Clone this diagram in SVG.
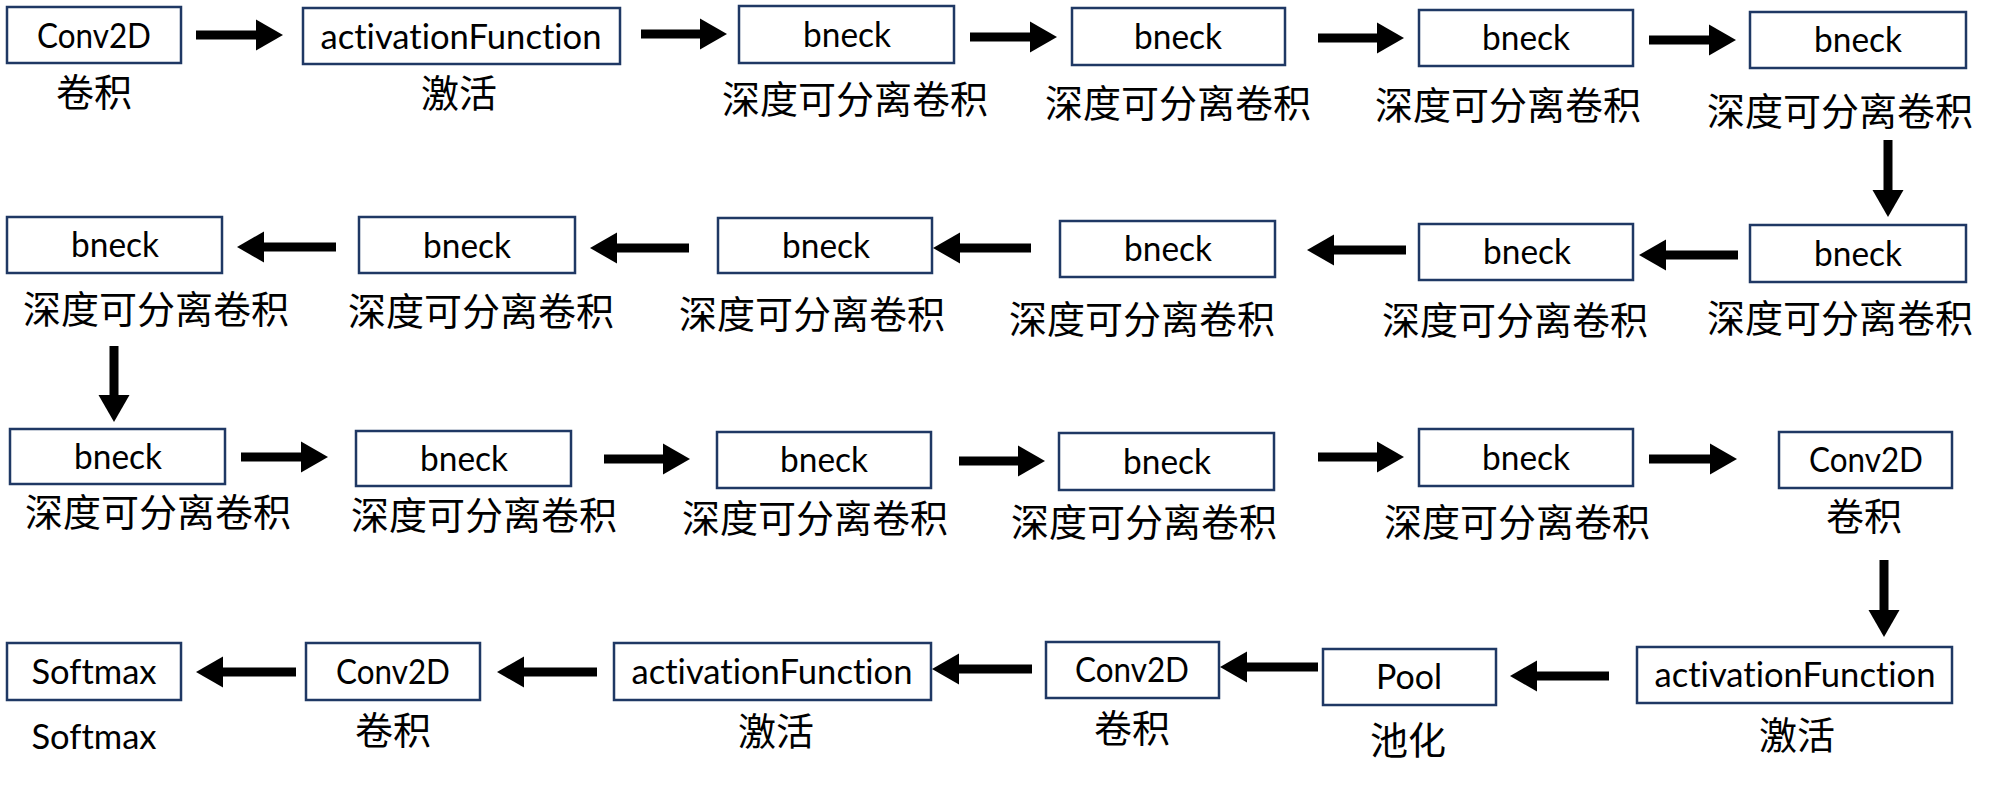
<svg xmlns="http://www.w3.org/2000/svg" width="1995" height="785" viewBox="0 0 1995 785">
<style>
.box{fill:#fff;stroke:#1F3864;stroke-width:2.5}
.t{font-family:Lato,"Open Sans","Liberation Sans",sans-serif;font-size:35px;fill:#000;text-anchor:middle;font-variant-ligatures:none}
.c{font-family:"Noto Sans CJK SC","Noto Sans",sans-serif;font-size:38px;fill:#000;text-anchor:middle}
.a{stroke:#000;stroke-width:9;fill:none;marker-end:url(#ah)}
</style>
<defs>
<marker id="ah" markerUnits="userSpaceOnUse" markerWidth="27" markerHeight="31" refX="0" refY="15.5" orient="auto" overflow="visible">
<path d="M0,0 L27,15.5 L0,31 Z" fill="#000"/>
</marker>
</defs>
<rect width="1995" height="785" fill="#fff"/>
<g id="n1"><rect class="box" x="7" y="7" width="174" height="56"/><text class="t" x="94" y="48" textLength="114" lengthAdjust="spacingAndGlyphs">Conv2D</text><text class="c" x="94" y="106">卷积</text></g>
<g id="n2"><rect class="box" x="303" y="8" width="317" height="56"/><text class="t" x="461" y="49" textLength="281" lengthAdjust="spacingAndGlyphs">activationFunction</text><text class="c" x="459" y="107">激活</text></g>
<g id="n3"><rect class="box" x="739" y="6" width="215" height="57"/><text class="t" x="847" y="47" textLength="88" lengthAdjust="spacingAndGlyphs">bneck</text><text class="c" x="855" y="113">深度可分离卷积</text></g>
<g id="n4"><rect class="box" x="1072" y="8" width="213" height="57"/><text class="t" x="1178" y="49" textLength="88" lengthAdjust="spacingAndGlyphs">bneck</text><text class="c" x="1178" y="117">深度可分离卷积</text></g>
<g id="n5"><rect class="box" x="1419" y="10" width="214" height="56"/><text class="t" x="1526" y="50" textLength="88" lengthAdjust="spacingAndGlyphs">bneck</text><text class="c" x="1508" y="119">深度可分离卷积</text></g>
<g id="n6"><rect class="box" x="1750" y="12" width="216" height="56"/><text class="t" x="1858" y="52" textLength="88" lengthAdjust="spacingAndGlyphs">bneck</text><text class="c" x="1840" y="125">深度可分离卷积</text></g>
<g id="n7"><rect class="box" x="7" y="217" width="215" height="56"/><text class="t" x="115" y="257" textLength="88" lengthAdjust="spacingAndGlyphs">bneck</text><text class="c" x="156" y="323">深度可分离卷积</text></g>
<g id="n8"><rect class="box" x="359" y="217" width="216" height="56"/><text class="t" x="467" y="258" textLength="88" lengthAdjust="spacingAndGlyphs">bneck</text><text class="c" x="481" y="325">深度可分离卷积</text></g>
<g id="n9"><rect class="box" x="718" y="218" width="214" height="55"/><text class="t" x="826" y="258" textLength="88" lengthAdjust="spacingAndGlyphs">bneck</text><text class="c" x="812" y="328">深度可分离卷积</text></g>
<g id="n10"><rect class="box" x="1060" y="221" width="215" height="56"/><text class="t" x="1168" y="261" textLength="88" lengthAdjust="spacingAndGlyphs">bneck</text><text class="c" x="1142" y="333">深度可分离卷积</text></g>
<g id="n11"><rect class="box" x="1419" y="224" width="214" height="56"/><text class="t" x="1527" y="264" textLength="88" lengthAdjust="spacingAndGlyphs">bneck</text><text class="c" x="1515" y="334">深度可分离卷积</text></g>
<g id="n12"><rect class="box" x="1750" y="225" width="216" height="57"/><text class="t" x="1858" y="266" textLength="88" lengthAdjust="spacingAndGlyphs">bneck</text><text class="c" x="1840" y="332">深度可分离卷积</text></g>
<g id="n13"><rect class="box" x="10" y="429" width="215" height="55"/><text class="t" x="118" y="469" textLength="88" lengthAdjust="spacingAndGlyphs">bneck</text><text class="c" x="158" y="526">深度可分离卷积</text></g>
<g id="n14"><rect class="box" x="356" y="431" width="215" height="55"/><text class="t" x="464" y="471" textLength="88" lengthAdjust="spacingAndGlyphs">bneck</text><text class="c" x="484" y="529">深度可分离卷积</text></g>
<g id="n15"><rect class="box" x="717" y="432" width="214" height="56"/><text class="t" x="824" y="472" textLength="88" lengthAdjust="spacingAndGlyphs">bneck</text><text class="c" x="815" y="532">深度可分离卷积</text></g>
<g id="n16"><rect class="box" x="1059" y="433" width="215" height="57"/><text class="t" x="1167" y="474" textLength="88" lengthAdjust="spacingAndGlyphs">bneck</text><text class="c" x="1144" y="536">深度可分离卷积</text></g>
<g id="n17"><rect class="box" x="1419" y="429" width="214" height="57"/><text class="t" x="1526" y="470" textLength="88" lengthAdjust="spacingAndGlyphs">bneck</text><text class="c" x="1517" y="536">深度可分离卷积</text></g>
<g id="n18"><rect class="box" x="1779" y="432" width="173" height="56"/><text class="t" x="1866" y="472" textLength="114" lengthAdjust="spacingAndGlyphs">Conv2D</text><text class="c" x="1864" y="530">卷积</text></g>
<g id="n19"><rect class="box" x="7" y="643" width="174" height="57"/><text class="t" x="94" y="684" textLength="125" lengthAdjust="spacingAndGlyphs">Softmax</text><text class="t" x="94" y="749" textLength="125" lengthAdjust="spacingAndGlyphs">Softmax</text></g>
<g id="n20"><rect class="box" x="306" y="643" width="174" height="57"/><text class="t" x="393" y="684" textLength="114" lengthAdjust="spacingAndGlyphs">Conv2D</text><text class="c" x="393" y="744">卷积</text></g>
<g id="n21"><rect class="box" x="614" y="643" width="317" height="57"/><text class="t" x="772" y="684" textLength="281" lengthAdjust="spacingAndGlyphs">activationFunction</text><text class="c" x="776" y="745">激活</text></g>
<g id="n22"><rect class="box" x="1046" y="642" width="173" height="56"/><text class="t" x="1132" y="682" textLength="114" lengthAdjust="spacingAndGlyphs">Conv2D</text><text class="c" x="1132" y="742">卷积</text></g>
<g id="n23"><rect class="box" x="1323" y="649" width="173" height="56"/><text class="t" x="1409" y="689" textLength="66" lengthAdjust="spacingAndGlyphs">Pool</text><text class="c" x="1408" y="754">池化</text></g>
<g id="n24"><rect class="box" x="1637" y="647" width="315" height="56"/><text class="t" x="1795" y="687" textLength="281" lengthAdjust="spacingAndGlyphs">activationFunction</text><text class="c" x="1797" y="749">激活</text></g>
<g id="connectors">
<line class="a" x1="196" y1="35" x2="256" y2="35"/>
<line class="a" x1="641" y1="34" x2="700" y2="34"/>
<line class="a" x1="970" y1="37" x2="1030" y2="37"/>
<line class="a" x1="1318" y1="38" x2="1377" y2="38"/>
<line class="a" x1="1649" y1="40" x2="1709" y2="40"/>
<line class="a" x1="1888" y1="140" x2="1888" y2="190"/>
<line class="a" x1="336" y1="247" x2="264" y2="247"/>
<line class="a" x1="689" y1="248" x2="617" y2="248"/>
<line class="a" x1="1031" y1="248" x2="960" y2="248"/>
<line class="a" x1="1406" y1="250" x2="1334" y2="250"/>
<line class="a" x1="1738" y1="255" x2="1666" y2="255"/>
<line class="a" x1="114" y1="346" x2="114" y2="395"/>
<line class="a" x1="241" y1="457" x2="301" y2="457"/>
<line class="a" x1="604" y1="459" x2="663" y2="459"/>
<line class="a" x1="959" y1="461" x2="1018" y2="461"/>
<line class="a" x1="1318" y1="457" x2="1377" y2="457"/>
<line class="a" x1="1649" y1="459" x2="1710" y2="459"/>
<line class="a" x1="1884" y1="560" x2="1884" y2="610"/>
<line class="a" x1="296" y1="672" x2="223" y2="672"/>
<line class="a" x1="597" y1="672" x2="524" y2="672"/>
<line class="a" x1="1032" y1="669" x2="959" y2="669"/>
<line class="a" x1="1318" y1="667" x2="1247" y2="667"/>
<line class="a" x1="1609" y1="676" x2="1537" y2="676"/>
</g>
</svg>
